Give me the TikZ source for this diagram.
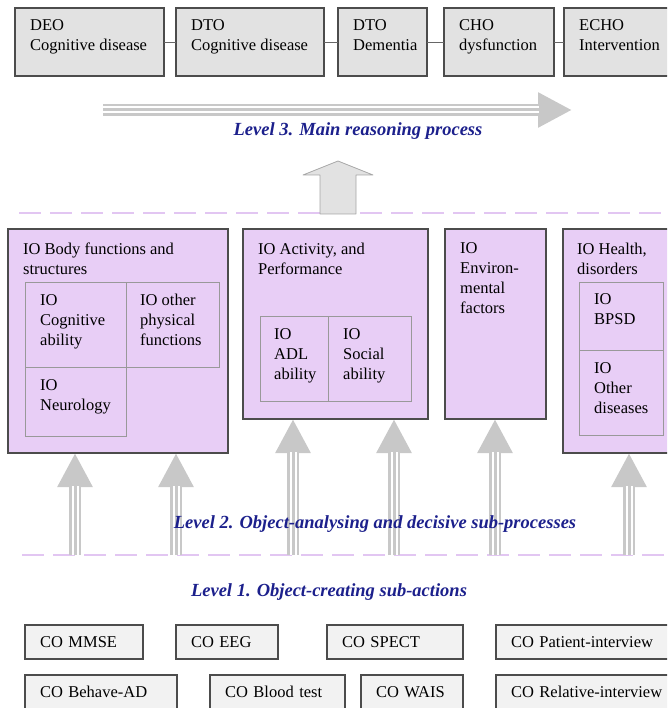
\documentclass[tikz,border=0pt]{standalone}
\usepackage{fontspec}
\setmainfont{Liberation Serif}
\usetikzlibrary{positioning, arrows.meta}
\definecolor{iolilac}{RGB}{232,206,246}
\definecolor{levellilac}{RGB}{226,198,242}
\definecolor{dtogray}{RGB}{226,226,226}
\definecolor{cogray}{RGB}{242,242,242}
\definecolor{flowgray}{RGB}{200,200,200}
\definecolor{levelblue}{RGB}{28,32,140}
\tikzset{
x=1pt, y=-1pt, % one unit is one pixel of the scan, y grows downwards
every node/.style={font=\fontsize{16.5}{20}\selectfont},
dtobox/.style={draw=black!70, fill=dtogray, line width=1.2pt, minimum height=68pt, inner sep=0pt, outer sep=0pt, anchor=north west}, % top row of reasoning objects
iobox/.style={draw=black!70, fill=iolilac, line width=1.2pt, inner sep=0pt, outer sep=0pt, anchor=north west}, % the IO groups
iocell/.style={draw=black!40, line width=0.8pt, inner sep=0pt, outer sep=0pt, anchor=north west}, % boxes inside an IO group
cobox/.style={draw=black!70, fill=cogray, line width=1.2pt, minimum height=34pt, inner xsep=15pt, inner ysep=0pt, outer sep=0pt, align=left, anchor=north west, text width=#1},
boxtext/.style={anchor=north west, align=left, inner sep=0pt, xshift=15pt, yshift=-12pt},
leveltext/.style={text=levelblue, font=\fontsize{18.5}{22}\selectfont\bfseries\itshape},
levelline/.style={draw=levellilac, line width=2.5pt, dash pattern=on 22pt off 9pt},
link/.style={draw=black!60, line width=0.8pt},
flow/.style={draw=flowgray, line width=12pt, -{Triangle[length=34pt, width=33pt]},
  postaction={draw=white, line width=7pt, -, shorten >=33pt},
  postaction={draw=flowgray, line width=3pt, -, shorten >=33pt}}, % striped grey arrows
mainflow/.style={draw=black!35, fill=dtogray, line width=0.8pt, line join=round}
}

\begin{document}
\begin{tikzpicture}
\useasboundingbox (0,0) rectangle (667,708);
\clip (0,0) rectangle (667,708);

% level 3
\node[dtobox, minimum width=149pt, label={[boxtext, yshift=0.5pt]north west:{DEO\\Cognitive disease}}] (deo) at (15,8) {};
\node[dtobox, minimum width=148pt, right=12pt of deo, label={[boxtext, yshift=0.5pt]north west:{DTO\\Cognitive disease}}] (dtocog) {};
\node[dtobox, minimum width=89pt, right=14pt of dtocog, label={[boxtext, yshift=0.5pt]north west:{DTO\\Dementia}}] (dtodem) {};
\node[dtobox, minimum width=110pt, right=17pt of dtodem, label={[boxtext, yshift=0.5pt]north west:{CHO\\dysfunction}}] (cho) {};
\node[dtobox, minimum width=120pt, right=10pt of cho, label={[boxtext, yshift=0.5pt]north west:{ECHO\\Intervention}}] (echo) {};
\draw[link] (deo) -- (dtocog);
\draw[link] (dtocog) -- (dtodem);
\draw[link] (dtodem) -- (cho);
\draw[link] (cho) -- (echo);

\coordinate (l3a) at (103,110);
\coordinate (l3b) at (572,110);
\draw[flow] (l3a) -- (l3b);
\node[leveltext] (level3) at (358,131) {Level 3. Main reasoning process};

\coordinate (d3a) at (19,213);
\coordinate (d3b) at (667,213);
\draw[levelline] (d3a) -- (d3b);
\draw[mainflow] (320,214) -- (320,175) -- (303,175) -- (338,161) -- (373,175) -- (356,175) -- (356,214) -- cycle;

% level 2
\node[iobox, minimum width=220pt, minimum height=224pt, label={[boxtext, yshift=-1.5pt]north west:{IO Body functions and\\structures}}] (body) at (8,229) {};
\node[iobox, minimum width=185pt, minimum height=190pt, right=15pt of body.north east, anchor=north west, label={[boxtext, yshift=-1.5pt]north west:{IO Activity, and\\Performance}}] (activity) {};
\node[iobox, minimum width=101pt, minimum height=190pt, right=17pt of activity.north east, anchor=north west, label={[boxtext, yshift=-1.5pt]north west:{IO\\Environ-\\mental\\factors}}] (environ) {};
\node[iobox, minimum width=120pt, minimum height=224pt, right=17pt of environ.north east, anchor=north west, label={[boxtext, xshift=-1pt, yshift=-1.5pt]north west:{IO Health,\\disorders}}] (health) {};

\node[iocell, minimum width=101pt, minimum height=85pt, label={[boxtext]north west:{IO\\Cognitive\\ability}}] (cognitive) at ([xshift=17pt, yshift=-53pt]body.north west) {};
\node[iocell, minimum width=93pt, minimum height=85pt, right=0pt of cognitive, label={[boxtext, xshift=-1pt]north west:{IO other\\physical\\functions}}] (physical) {};
\node[iocell, minimum width=101pt, minimum height=69pt, below=0pt of cognitive.south west, anchor=north west, label={[boxtext]north west:{IO\\Neurology}}] (neurology) {};
\node[iocell, minimum width=68pt, minimum height=85pt, label={[boxtext, xshift=-1pt]north west:{IO\\ADL\\ability}}] (adl) at ([xshift=17pt, yshift=-87pt]activity.north west) {};
\node[iocell, minimum width=83pt, minimum height=85pt, right=0pt of adl, label={[boxtext]north west:{IO\\Social\\ability}}] (social) {};
\node[iocell, minimum width=84pt, minimum height=68pt, label={[boxtext, yshift=1pt]north west:{IO\\BPSD}}] (bpsd) at ([xshift=16pt, yshift=-53pt]health.north west) {};
\node[iocell, minimum width=84pt, minimum height=85pt, below=0pt of bpsd.south west, anchor=north west, label={[boxtext]north west:{IO\\Other\\diseases}}] (otherdis) {};

\coordinate (d2a) at (22,555);
\coordinate (d2b) at (667,555);
\draw[levelline] (d2a) -- (d2b);
\coordinate (f1) at (75,555);
\coordinate (f2) at (176,555);
\coordinate (f3) at (293,555);
\coordinate (f4) at (394,555);
\coordinate (f5) at (495,555);
\coordinate (f6) at (629,555);
\draw[flow] (f1) -- (f1 |- body.south);
\draw[flow] (f2) -- (f2 |- body.south);
\draw[flow] (f3) -- (f3 |- activity.south);
\draw[flow] (f4) -- (f4 |- activity.south);
\draw[flow] (f5) -- (f5 |- environ.south);
\draw[flow] (f6) -- (f6 |- health.south);
\node[leveltext] (level2) at (375,524) {Level 2. Object-analysing and decisive sub-processes};

% level 1
\node[leveltext] (level1) at (329,592) {Level 1. Object-creating sub-actions};
\node[cobox=88pt] (mmse) at (25,625) {CO MMSE};
\node[cobox=72pt, right=33pt of mmse] (eeg) {CO EEG};
\node[cobox=106pt, right=49pt of eeg] (spect) {CO SPECT};
\node[cobox=160pt, right=33pt of spect] (patient) {CO Patient-interview};
\node[cobox=122pt, below=16pt of mmse.south west, anchor=north west] (behave) {CO Behave-AD};
\node[cobox=105pt, right=33pt of behave] (blood) {CO Blood test};
\node[cobox=72pt, right=16pt of blood] (wais) {CO WAIS};
\node[cobox=160pt, right=33pt of wais] (relative) {CO Relative-interview};
\end{tikzpicture}
\end{document}
